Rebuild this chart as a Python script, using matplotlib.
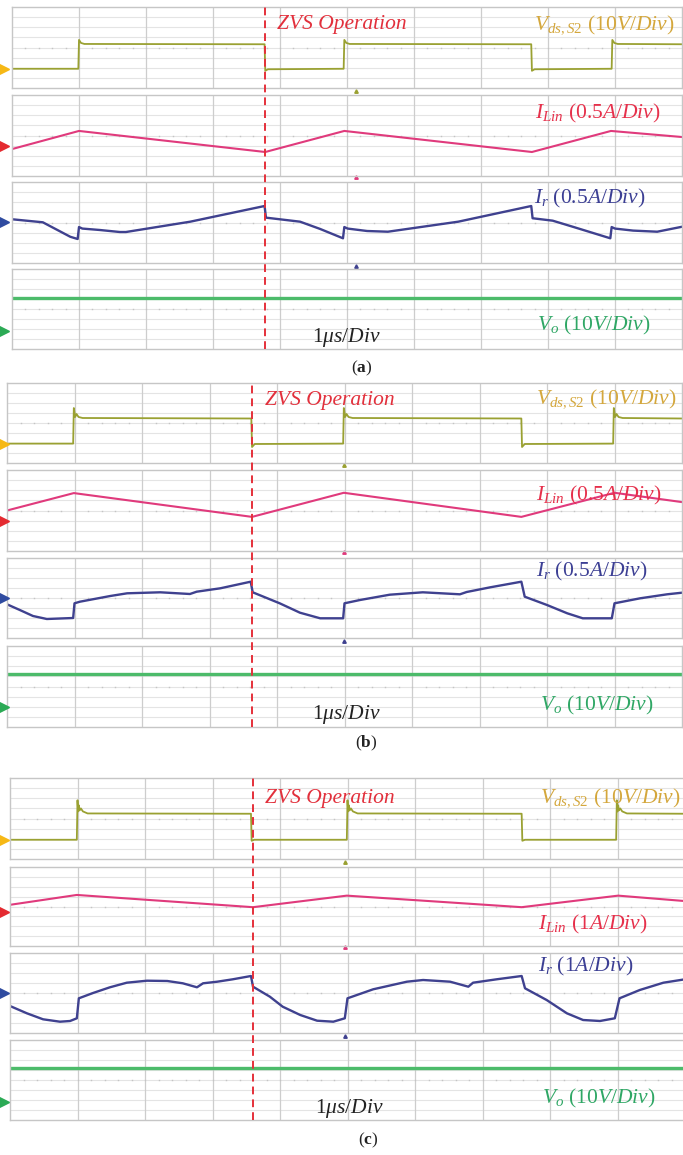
"""Oscilloscope captures (a)-(c): Vds,S2 / ILin / Ir / Vo, ZVS operation."""
import matplotlib
matplotlib.use("Agg")
import matplotlib.pyplot as plt
import numpy as np

plt.rcParams["mathtext.fontset"] = "custom"
plt.rcParams["mathtext.rm"] = "Liberation Serif"
plt.rcParams["mathtext.it"] = "Liberation Serif:italic"
plt.rcParams["mathtext.bf"] = "Liberation Serif:bold"

W, H = 683, 1155

# ── data: time in µs (1 µs/div), amplitude in screen divisions ────────────────
# (a)
a_vds_t = [0, 0.99, 1.0, 1.03, 1.08, 3.77, 3.78, 3.82, 4.95, 4.96, 4.99, 5.04,
           7.75, 7.76, 7.8, 8.95, 8.96, 8.99, 9.04, 10]
a_vds_v = [-2.1, -2.1, 0.75, 0.45, 0.35, 0.32, -2.3, -2.15, -2.1, 0.75, 0.45, 0.35,
           0.32, -2.3, -2.15, -2.1, 0.75, 0.45, 0.35, 0.32]
a_il_t = [0, 1.0, 3.78, 4.96, 7.76, 8.94, 10]
a_il_v = [-1.34, 0.45, -1.63, 0.45, -1.63, 0.45, -0.15]
a_ir_t = [0.0, 0.46, 0.87, 0.98, 1.0, 1.05, 1.31, 1.61, 1.70, 2.66, 3.77, 3.79,
          4.30, 4.60, 4.94, 4.96, 5.01, 5.30, 5.61, 6.66, 7.75, 7.77, 8.07, 8.37,
          8.93, 8.95, 9.0, 9.27, 9.63, 10.0]
a_ir_v = [0.32, 0.02, -1.41, -1.63, -0.45, -0.6, -0.74, -0.94, -0.94, 0.08, 1.63, 0.48,
          0.08, -0.64, -1.56, -0.45, -0.6, -0.84, -0.91, 0.08, 1.63, 0.42, 0.18, -0.42,
          -1.56, -0.45, -0.6, -0.80, -0.91, -0.42]
a_vo = 1.13
a_zvs = 3.78

# (b)
b_vds_t = [0, 0.98, 0.99, 1.01, 1.03, 1.06, 1.12, 3.62, 3.63, 3.67, 4.98, 4.99, 5.01,
           5.03, 5.06, 5.12, 7.62, 7.63, 7.67, 8.98, 8.99, 9.01, 9.03, 9.06, 9.12, 10]
b_vds_v = [-2.06, -2.06, 1.5, 0.6, 0.9, 0.6, 0.5, 0.45, -2.4, -2.1, -2.06, 1.5, 0.6,
           0.9, 0.6, 0.5, 0.45, -2.4, -2.1, -2.06, 1.5, 0.6, 0.9, 0.6, 0.5, 0.45]
b_il_t = [0, 0.99, 3.63, 4.99, 7.62, 9.0, 10]
b_il_v = [0.0, 1.72, -0.63, 1.75, -0.63, 1.75, 0.83]
b_ir_t = [0, 0.19, 0.385, 0.59, 0.98, 1.0, 1.08, 1.53, 1.78, 2.27, 2.71, 2.81, 3.16,
          3.61, 3.64, 4.04, 4.34, 4.64, 4.98, 5.0, 5.23, 5.67, 6.16, 6.71, 6.81, 7.16,
          7.62, 7.67, 8.0, 8.3, 8.53, 8.96, 9.0, 9.38, 9.78, 10.0]
b_ir_v = [-0.63, -1.2, -1.8, -2.1, -2.0, -0.53, -0.37, 0.2, 0.47, 0.57, 0.4, 0.63, 0.97,
          1.63, 0.57, -0.53, -1.47, -2.03, -2.03, -0.53, -0.2, 0.33, 0.57, 0.37, 0.6, 1.07,
          1.63, 0.13, -0.7, -1.53, -2.03, -2.03, -0.53, -0.03, 0.37, 0.53]
b_vo = 1.2
b_zvs = 3.63

# (c)
c_vds_t = [0, 0.99, 1.0, 1.01, 1.02, 1.03, 1.05, 1.08, 1.15, 3.57, 3.58, 3.62,
           4.99, 5.0, 5.01, 5.02, 5.03, 5.05, 5.08, 5.15, 7.58, 7.59, 7.63,
           8.98, 8.99, 9.0, 9.01, 9.02, 9.04, 9.07, 9.14, 10]
c_vds_v = [-2.1, -2.1, 1.8, 0.7, 1.3, 0.8, 1.0, 0.7, 0.5, 0.47, -2.2, -2.1,
           -2.1, 1.8, 0.7, 1.3, 0.8, 1.0, 0.7, 0.5, 0.47, -2.2, -2.1,
           -2.1, 1.8, 0.7, 1.3, 0.8, 1.0, 0.7, 0.5, 0.47]
c_il_t = [0, 0.99, 3.6, 4.99, 7.58, 9.01, 10]
c_il_v = [0.17, 1.17, -0.07, 1.1, -0.07, 1.1, 0.55]
c_ir_t = [0, 0.25, 0.49, 0.74, 0.89, 0.99, 1.02, 1.23, 1.48, 1.73, 2.03, 2.33, 2.56,
          2.77, 2.86, 3.07, 3.30, 3.57, 3.60, 3.85, 4.04, 4.30, 4.55, 4.79, 4.96, 5.0,
          5.38, 5.88, 6.12, 6.52, 6.79, 6.86, 7.21, 7.58, 7.63, 7.95, 8.25, 8.49, 8.74,
          8.96, 9.03, 9.33, 9.68, 10.0]
c_ir_v = [-1.3, -2.03, -2.63, -2.87, -2.8, -2.53, -0.53, 0.0, 0.57, 1.03, 1.23, 1.2, 0.97,
          0.57, 0.97, 1.13, 1.37, 1.7, 0.63, -0.37, -1.37, -2.2, -2.77, -2.87, -2.53, -0.53,
          0.37, 1.13, 1.3, 1.13, 0.63, 1.03, 1.37, 1.7, 0.47, -0.7, -2.03, -2.7, -2.8,
          -2.53, -0.53, 0.3, 1.03, 1.37]
c_vo = 1.17
c_zvs = 3.6

# channel reference markers (div) : Vds, ILin, Ir, Vo
a_refs = [-2.1, -1.04, 0.05, -2.2]
b_refs = [-2.06, -1.07, 0.0, -2.0]
c_refs = [-2.1, -0.57, 0.0, -2.17]

labels_ab = [r"$V_{ds,S2}$ (10$V/Div$)", r"$I_{Lin}$ (0.5$A/Div$)",
             r"$I_r$ (0.5$A/Div$)", r"$V_o$ (10$V/Div$)"]
labels_c = [r"$V_{ds,S2}$ (10$V/Div$)", r"$I_{Lin}$ (1$A/Div$)",
            r"$I_r$ (1$A/Div$)", r"$V_o$ (10$V/Div$)"]

C_VDS = "#9AA132"
C_IL = "#E03A7C"
C_IR = "#3F418F"
C_VO = "#4CBB6A"
TXT = ["#D4A73C", "#E6304B", "#3C3F94", "#2FA765"]
REF = ["#F6B815", "#E42A30", "#2F4BA0", "#2BAA55"]


def fbox(l, t, r, b):
    return [l / W, 1 - b / H, (r - l) / W, (b - t) / H]


def strip(fig, l, r, t, b):
    ax = fig.add_axes(fbox(l, t, r, b))
    ax.set_xlim(0, 10)
    ax.set_ylim(-4, 4)
    ax.set_xticks([])
    ax.set_yticks([])
    for s in ax.spines.values():
        s.set_color("#C6C6C6")
        s.set_linewidth(1.0)
    for y in [-3, -2, -1, 1, 2, 3]:
        ax.axhline(y, color="#E4E4E4", lw=0.8, zorder=0)
    for x in range(1, 10):
        ax.axvline(x, color="#CDCDCD", lw=0.9, zorder=0)
    # centre graticule line with small tick dots
    ax.axhline(0, color="#E4E4E4", lw=0.8, zorder=0)
    ax.plot(np.arange(0.2, 10, 0.2), np.zeros(49), ls="none", marker="s",
            ms=1.0, mew=0, color="#C4C4C4", zorder=0)
    return ax


def ftext(fig, x, y, s, color, size=15.5, **kw):
    fig.text(x / W, 1 - y / H, s, color=color, fontsize=size, ha="center",
             va="center", family="Liberation Serif", **kw)


def panel(fig, left, right, rows, vds, il, ir, vo, zvs, refs, labels, lab_pos,
          zvs_pos, tdiv_pos, cap, cap_pos):
    divpx = (right - left) / 10.0
    axes = [strip(fig, left, right, t, b) for t, b in rows]
    axes[0].plot(*vds, color=C_VDS, lw=1.3)
    axes[1].plot(*il, color=C_IL, lw=1.5)
    axes[2].plot(*ir, color=C_IR, lw=1.7)
    axes[3].axhline(vo, color=C_VO, lw=2.4)
    for ax, y, c in zip(axes, refs, REF):
        ax.plot([(4 - left) / divpx], [y], marker=">", ms=7, color=c,
                clip_on=False, zorder=5)
    # trigger dots under the strips
    trig = zvs + 1.36
    for ax, c, dy in zip(axes[:3], [C_VDS, C_IL, C_IR], [-4.25, -4.1, -4.25]):
        ax.plot([trig], [dy], marker="^", ms=2.5, color=c, clip_on=False)
    # dashed ZVS marker across the whole panel
    over = fig.add_axes(fbox(left, rows[0][0], right, rows[-1][1]))
    over.set_xlim(0, 10)
    over.set_ylim(0, 1)
    over.axis("off")
    over.axvline(zvs, color="#E5303A", lw=1.4, ls=(0, (4, 2.6)))
    for (x, y), s, c in zip(lab_pos, labels, TXT):
        ftext(fig, x, y, s, c)
    ftext(fig, zvs_pos[0], zvs_pos[1], "ZVS Operation", "#E2303C", style="italic")
    ftext(fig, tdiv_pos[0], tdiv_pos[1], r"1$\mu s/Div$", "#222222")
    ftext(fig, cap_pos[0], cap_pos[1], "(" + r"$\mathbf{" + cap + "}$" + ")",
          "#222222", size=12.5)


fig = plt.figure(figsize=(W / 100, H / 100), dpi=100)
fig.patch.set_facecolor("white")

panel(fig, 12, 682, [(7, 88), (95, 176), (182, 263), (269, 349)],
      (a_vds_t, a_vds_v), (a_il_t, a_il_v), (a_ir_t, a_ir_v), a_vo, a_zvs, a_refs,
      labels_ab, [(604, 25), (598, 113), (590, 198), (594, 325)],
      (342, 25), (346, 338), "a", (362, 368))

panel(fig, 7, 682, [(383, 463), (470, 551), (558, 638), (646, 727)],
      (b_vds_t, b_vds_v), (b_il_t, b_il_v), (b_ir_t, b_ir_v), b_vo, b_zvs, b_refs,
      labels_ab, [(606, 399), (599, 495), (592, 571), (597, 705)],
      (330, 400), (346, 714), "b", (366, 743))

panel(fig, 10, 685, [(778, 859), (867, 946), (953, 1033), (1040, 1120)],
      (c_vds_t, c_vds_v), (c_il_t, c_il_v), (c_ir_t, c_ir_v), c_vo, c_zvs, c_refs,
      labels_c, [(610, 798), (593, 924), (586, 966), (599, 1098)],
      (330, 798), (349, 1108), "c", (368, 1140))

fig.savefig("out.png", dpi=100, facecolor="white")
